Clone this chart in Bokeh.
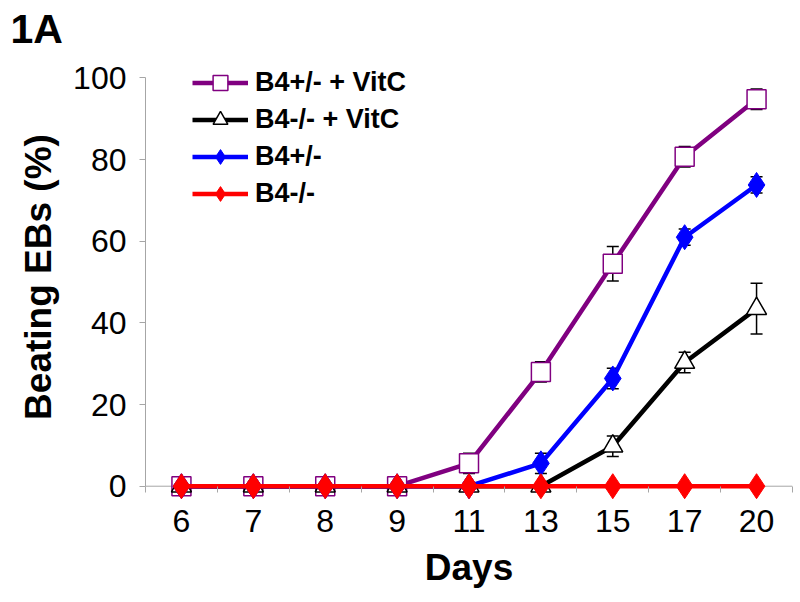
from bokeh.plotting import figure
from bokeh.models import (ColumnDataSource, Range1d, Legend, LegendItem, Span,
                          Whisker, TeeHead, FixedTicker, Title)
from bokeh.embed import file_html
from bokeh.resources import INLINE

days = ["6", "7", "8", "9", "11", "13", "15", "17", "20"]
het_vitc = [0, 0, 0, 0, 5.6, 28, 54.5, 80.7, 94.8]
het_vitc_err = [0, 0, 0, 0, 2.5, 2.5, 4.2, 2.5, 2.5]
ko_vitc = [0, 0, 0, 0, 0, 0, 9.8, 30.3, 43.5]
ko_vitc_err = [0, 0, 0, 0, 0, 0, 2.5, 2.5, 6.2]
het = [0, 0, 0, 0, 0, 5.6, 26.4, 61, 73.8]
het_err = [0, 0, 0, 0, 0, 2.5, 2.5, 2.0, 2.0]
ko = [0, 0, 0, 0, 0, 0, 0, 0, 0]
ko_err = [0, 0, 0, 0, 0, 0, 0, 0, 0]
labels = ["B4+/- + VitC", "B4-/- + VitC", "B4+/-", "B4-/-"]
y_ticks = [0, 20, 40, 60, 80, 100]

FONT = "Liberation Sans"
GRAY = "#a6a6a6"

n = len(days)
xpos = [i + 0.5 for i in range(n)]          # category centres
bounds = list(range(n + 1))                  # category boundaries

p = figure(x_range=Range1d(0, n), y_range=Range1d(-3.5, 106),
           width=800, height=602, output_backend="svg", toolbar_location=None,
           min_border_left=145, min_border_right=8, min_border_top=53, min_border_bottom=102)
p.outline_line_color = None
p.xgrid.grid_line_color = None
p.ygrid.grid_line_color = None
p.background_fill_color = "white"

# y axis
ya = p.yaxis[0]
ya.bounds = (0, 100)
ya.ticker = FixedTicker(ticks=y_ticks)
ya.axis_line_color = GRAY
ya.major_tick_line_color = GRAY
ya.major_tick_out = 6
ya.major_tick_in = 0
ya.minor_tick_line_color = None
ya.major_label_text_font = FONT
ya.major_label_text_font_size = "32px"
ya.major_label_text_color = "black"
ya.major_label_standoff = 13
ya.axis_label = "Beating EBs (%)"
ya.axis_label_text_font = FONT
ya.axis_label_text_font_size = "37px"
ya.axis_label_text_font_style = "bold"
ya.axis_label_text_color = "black"
ya.axis_label_standoff = 11

# x axis: labels at category centres, tick marks at category boundaries hanging from y=0
xa = p.xaxis[0]
xa.ticker = FixedTicker(ticks=xpos, minor_ticks=bounds)
xa.major_label_overrides = {x: d for x, d in zip(xpos, days)}
xa.axis_line_color = None
xa.major_tick_line_color = None
xa.major_tick_out = 0
xa.major_tick_in = 0
xa.minor_tick_line_color = GRAY
xa.minor_tick_in = 14
xa.minor_tick_out = -8
xa.major_label_text_font = FONT
xa.major_label_text_font_size = "32px"
xa.major_label_text_color = "black"
xa.major_label_standoff = 9
xa.axis_label = "Days"
xa.axis_label_text_font = FONT
xa.axis_label_text_font_size = "37px"
xa.axis_label_text_font_style = "bold"
xa.axis_label_text_color = "black"
xa.axis_label_standoff = 12

p.add_layout(Span(location=0, dimension="width", line_color=GRAY, line_width=1,
                  level="underlay"))

series = [
    (het_vitc, het_vitc_err, "#800080", dict(marker="square", size=19, fill_color="white",
                                            line_color="#800080", line_width=1.5)),
    (ko_vitc, ko_vitc_err, "black", dict(marker="triangle", size=20, fill_color="white",
                                         line_color="black", line_width=1.5)),
    (het, het_err, "#0000ff", dict(marker="diamond", size=25, fill_color="#0000ff",
                                   line_color="#0000ff", line_width=1)),
    (ko, ko_err, "#ff0000", dict(marker="diamond", size=25, fill_color="#ff0000",
                                 line_color="#ff0000", line_width=1)),
]

items = []
for (vals, errs, color, mk), lab in zip(series, labels):
    src = ColumnDataSource(dict(x=xpos, y=vals,
                                lo=[v - e for v, e in zip(vals, errs)],
                                hi=[v + e for v, e in zip(vals, errs)]))
    w = Whisker(source=src, base="x", upper="hi", lower="lo", dimension="height",
                line_color="black", line_width=1.5, level="underlay",
                upper_head=TeeHead(size=12, line_color="black", line_width=1.5),
                lower_head=TeeHead(size=12, line_color="black", line_width=1.5))
    p.add_layout(w)
    ln = p.line("x", "y", source=src, line_color=color, line_width=4.5)
    sc = p.scatter("x", "y", source=src, **mk)
    items.append(LegendItem(label=lab, renderers=[ln, sc]))

legend = Legend(items=items, location=(47, 288), glyph_width=56, glyph_height=37,
                label_height=37, spacing=0, padding=0, margin=0,
                border_line_color=None, background_fill_alpha=0,
                label_text_font=FONT, label_text_font_style="bold",
                label_text_font_size="27px", label_text_color="black", label_standoff=7)
p.add_layout(legend)

p.title = Title(text="1A", align="left", offset=-135, text_font=FONT, text_color="black",
                text_font_size="41px", text_font_style="bold", standoff=3)

open("out.html", "w").write(file_html(p, INLINE))
